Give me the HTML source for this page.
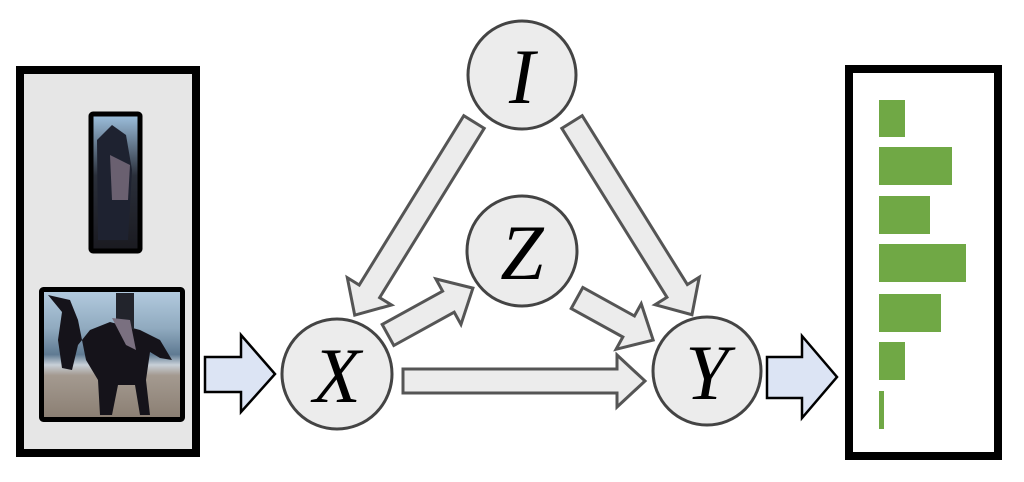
<!DOCTYPE html>
<html><head><meta charset="utf-8"><style>
html,body{margin:0;padding:0;background:#fff;width:1024px;height:482px;overflow:hidden}
svg{display:block}
text{font-family:"Liberation Serif",serif;font-style:italic;font-size:78px;fill:#000}
</style></head><body>
<svg width="1024" height="482" viewBox="0 0 1024 482">
<defs>
<linearGradient id="sky" x1="0" y1="0" x2="0" y2="1">
<stop offset="0" stop-color="#b4cce0"/><stop offset="0.3" stop-color="#90aabf"/><stop offset="0.5" stop-color="#5f7a92"/><stop offset="0.58" stop-color="#c8d0d8"/><stop offset="0.66" stop-color="#a49a90"/><stop offset="1" stop-color="#8a7e72"/>
</linearGradient>
<linearGradient id="sky2" x1="0" y1="0" x2="0" y2="1">
<stop offset="0" stop-color="#9fc2e0"/><stop offset="0.45" stop-color="#2a2f3a"/><stop offset="1" stop-color="#1a1a20"/>
</linearGradient>
</defs>
<rect x="20" y="70" width="176" height="383" fill="#e6e6e6" stroke="#000" stroke-width="8"/>
<rect x="91" y="114" width="49" height="137" rx="2" fill="url(#sky2)" stroke="#000" stroke-width="5"/>
<path d="M97 140 L112 125 L126 135 L132 170 L128 240 L98 240 Z" fill="#1e2230"/>
<path d="M110 155 L130 165 L128 200 L112 200 Z" fill="#6a6070"/>
<rect x="41.5" y="289.5" width="141" height="130" rx="2" fill="url(#sky)" stroke="#000" stroke-width="5"/>
<path d="M48 295 L62 312 L58 340 L62 368 L72 370 L78 345 L90 330 L110 322 L140 330 L160 340 L172 360 L160 358 L150 352 L146 380 L150 415 L140 415 L135 385 L118 385 L112 415 L100 415 L98 380 L86 360 L78 320 L70 300 Z" fill="#15131a"/>
<path d="M116 293 L134 293 L134 330 L116 320 Z" fill="#22242c"/>
<path d="M112 318 L130 320 L136 350 L126 345 Z" fill="#7a7080"/>
<polygon points="205,357 241,357 241,335 275,374 241,412 241,392 205,392" fill="#dce4f4" stroke="#000" stroke-width="2.5"/>
<polygon points="767,357 802,357 802,336 837,377 802,418 802,398 767,398" fill="#dce4f4" stroke="#000" stroke-width="2.5"/>
<rect x="849" y="69" width="149" height="387" fill="#fff" stroke="#000" stroke-width="8"/>
<g fill="#70a845">
<rect x="879" y="100" width="26" height="37"/>
<rect x="879" y="147" width="73" height="38"/>
<rect x="879" y="196" width="51" height="38"/>
<rect x="879" y="244" width="87" height="38"/>
<rect x="879" y="294" width="62" height="38"/>
<rect x="879" y="342" width="26" height="38"/>
<rect x="879" y="391" width="5" height="38"/>
</g>
<g fill="#ececec" stroke="#555" stroke-width="3" stroke-linejoin="miter">
<g transform="translate(474,122) rotate(121.7)"><polygon points="0,-12 199,-12 199,-26 227,0 199,26 199,12 0,12"/></g>
<g transform="translate(572,122) rotate(58.1)"><polygon points="0,-12 199,-12 199,-26 227,0 199,26 199,12 0,12"/></g>
<g transform="translate(388,335) rotate(-28.9)"><polygon points="0,-12 69,-12 69,-26 97,0 69,26 69,12 0,12"/></g>
<g transform="translate(577,298) rotate(28.9)"><polygon points="0,-12 59,-12 59,-26 87,0 59,26 59,12 0,12"/></g>
<g transform="translate(403,381)"><polygon points="0,-12 214,-12 214,-26 242,0 214,26 214,12 0,12"/></g>
</g>
<g fill="#ececec" stroke="#444" stroke-width="3">
<circle cx="522" cy="75" r="54"/>
<circle cx="522" cy="251" r="55"/>
<circle cx="337" cy="374" r="55"/>
<circle cx="707" cy="371" r="54"/>
</g>
<text x="522" y="103" text-anchor="middle">I</text>
<text x="522" y="279" text-anchor="middle">Z</text>
<text x="337" y="402" text-anchor="middle">X</text>
<text x="707" y="399" text-anchor="middle">Y</text>
</svg>
</body></html>
